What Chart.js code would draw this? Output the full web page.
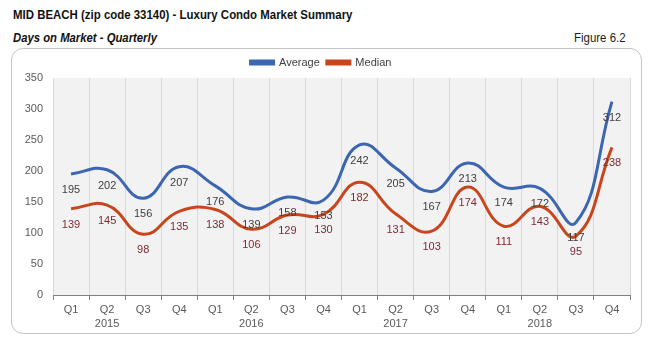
<!DOCTYPE html>
<html>
<head>
<meta charset="utf-8">
<script src="https://cdn.jsdelivr.net/npm/chart.js@4.4.1/dist/chart.umd.min.js"></script>
<style>
  html, body { margin: 0; padding: 0; background: #fff; }
  #wrap { position: relative; width: 651px; height: 344px; overflow: hidden; }
  .txt { position: absolute; font-family: "Liberation Sans", Arial, sans-serif; font-size: 13px; color: #111; white-space: nowrap; line-height: 14px; }
  #title { left: 13px; top: 8px; font-weight: bold; transform: scaleX(0.88); transform-origin: left center; }
  #subtitle { left: 13px; top: 31px; font-weight: bold; font-style: italic; transform: scaleX(0.87); transform-origin: left center; }
  #figure { right: 25px; top: 31px; color: #222; transform: scaleX(0.88); transform-origin: right center; }
  #box { position: absolute; left: 11px; top: 48px; width: 629px; height: 284px; border: 1px solid #c4c4c4; border-radius: 12px; }
  #chart { position: absolute; left: 0; top: 0; }
</style>
</head>
<body>
<div id="wrap">
  <div id="box"></div>
  <div class="txt" id="title">MID BEACH (zip code 33140) - Luxury Condo Market Summary</div>
  <div class="txt" id="subtitle">Days on Market - Quarterly</div>
  <div class="txt" id="figure">Figure 6.2</div>
  <canvas id="chart" width="651" height="344"></canvas>
</div>
<script>
// quarters with the year under Q2
const quarters = [
  'Q1', ['Q2', '2015'], 'Q3', 'Q4',
  'Q1', ['Q2', '2016'], 'Q3', 'Q4',
  'Q1', ['Q2', '2017'], 'Q3', 'Q4',
  'Q1', ['Q2', '2018'], 'Q3', 'Q4'
];
const averageDays = [195, 202, 156, 207, 176, 139, 158, 153, 242, 205, 167, 213, 174, 172, 117, 312];
const medianDays = [139, 145, 98, 135, 138, 106, 129, 130, 182, 131, 103, 174, 111, 143, 95, 238];
const yTicks = [0, 50, 100, 150, 200, 250, 300, 350];

const BLUE = '#3c66b0';
const RED = '#c8461d';

// grey plot background
const plotBg = {
  id: 'plotBg',
  beforeDraw(chart) {
    const a = chart.chartArea;
    const ctx = chart.ctx;
    ctx.save();
    ctx.fillStyle = '#f2f2f2';
    ctx.fillRect(a.left, a.top, a.right - a.left, a.bottom - a.top);
    ctx.restore();
  }
};

// value labels under each point
const valueLabels = {
  id: 'valueLabels',
  afterDatasetsDraw(chart) {
    const ctx = chart.ctx;
    ctx.save();
    ctx.font = '11px "Liberation Sans", Arial, sans-serif';
    ctx.textAlign = 'center';
    ctx.textBaseline = 'middle';
    chart.data.datasets.forEach((ds, i) => {
      ctx.fillStyle = ds.labelColor;
      chart.getDatasetMeta(i).data.forEach((pt, j) => {
        ctx.fillText(String(ds.data[j]), pt.x, pt.y + 16);
      });
    });
    ctx.restore();
  }
};

new Chart(document.getElementById('chart'), {
  type: 'line',
  data: {
    labels: quarters,
    datasets: [
      {
        label: 'Average',
        data: averageDays,
        borderColor: BLUE,
        backgroundColor: BLUE,
        borderWidth: 3,
        pointRadius: 0,
        tension: 0.45,
        labelColor: '#404040'
      },
      {
        label: 'Median',
        data: medianDays,
        borderColor: RED,
        backgroundColor: RED,
        borderWidth: 3,
        pointRadius: 0,
        tension: 0.45,
        labelColor: '#7e2a33'
      }
    ]
  },
  options: {
    responsive: false,
    animation: false,
    layout: { padding: { top: 50, left: 12, right: 21, bottom: 12 } },
    plugins: {
      legend: {
        position: 'top',
        labels: {
          boxWidth: 23,
          boxHeight: 3,
          padding: 7,
          color: '#404040',
          font: { family: '"Liberation Sans", Arial, sans-serif', size: 11 }
        }
      },
      tooltip: { enabled: false }
    },
    scales: {
      x: {
        offset: true,
        grid: {
          display: true,
          offset: true,
          color: '#d9d9d9',
          tickColor: '#808080',
          tickLength: 5
        },
        border: { display: true, color: '#808080' },
        ticks: {
          padding: 3,
          color: '#595959',
          maxRotation: 0,
          autoSkip: false,
          font: { family: '"Liberation Sans", Arial, sans-serif', size: 11, lineHeight: 1.25 }
        },
        afterFit: s => { s.height = 37; }
      },
      y: {
        min: 0,
        max: 350,
        afterBuildTicks: s => { s.ticks = yTicks.map(v => ({ value: v })); },
        grid: { display: false, drawTicks: false },
        border: { display: false },
        ticks: {
          padding: 10,
          color: '#595959',
          font: { family: '"Liberation Sans", Arial, sans-serif', size: 11 }
        },
        afterFit: s => { s.width = 41; }
      }
    }
  },
  plugins: [plotBg, valueLabels]
});
</script>
</body>
</html>
